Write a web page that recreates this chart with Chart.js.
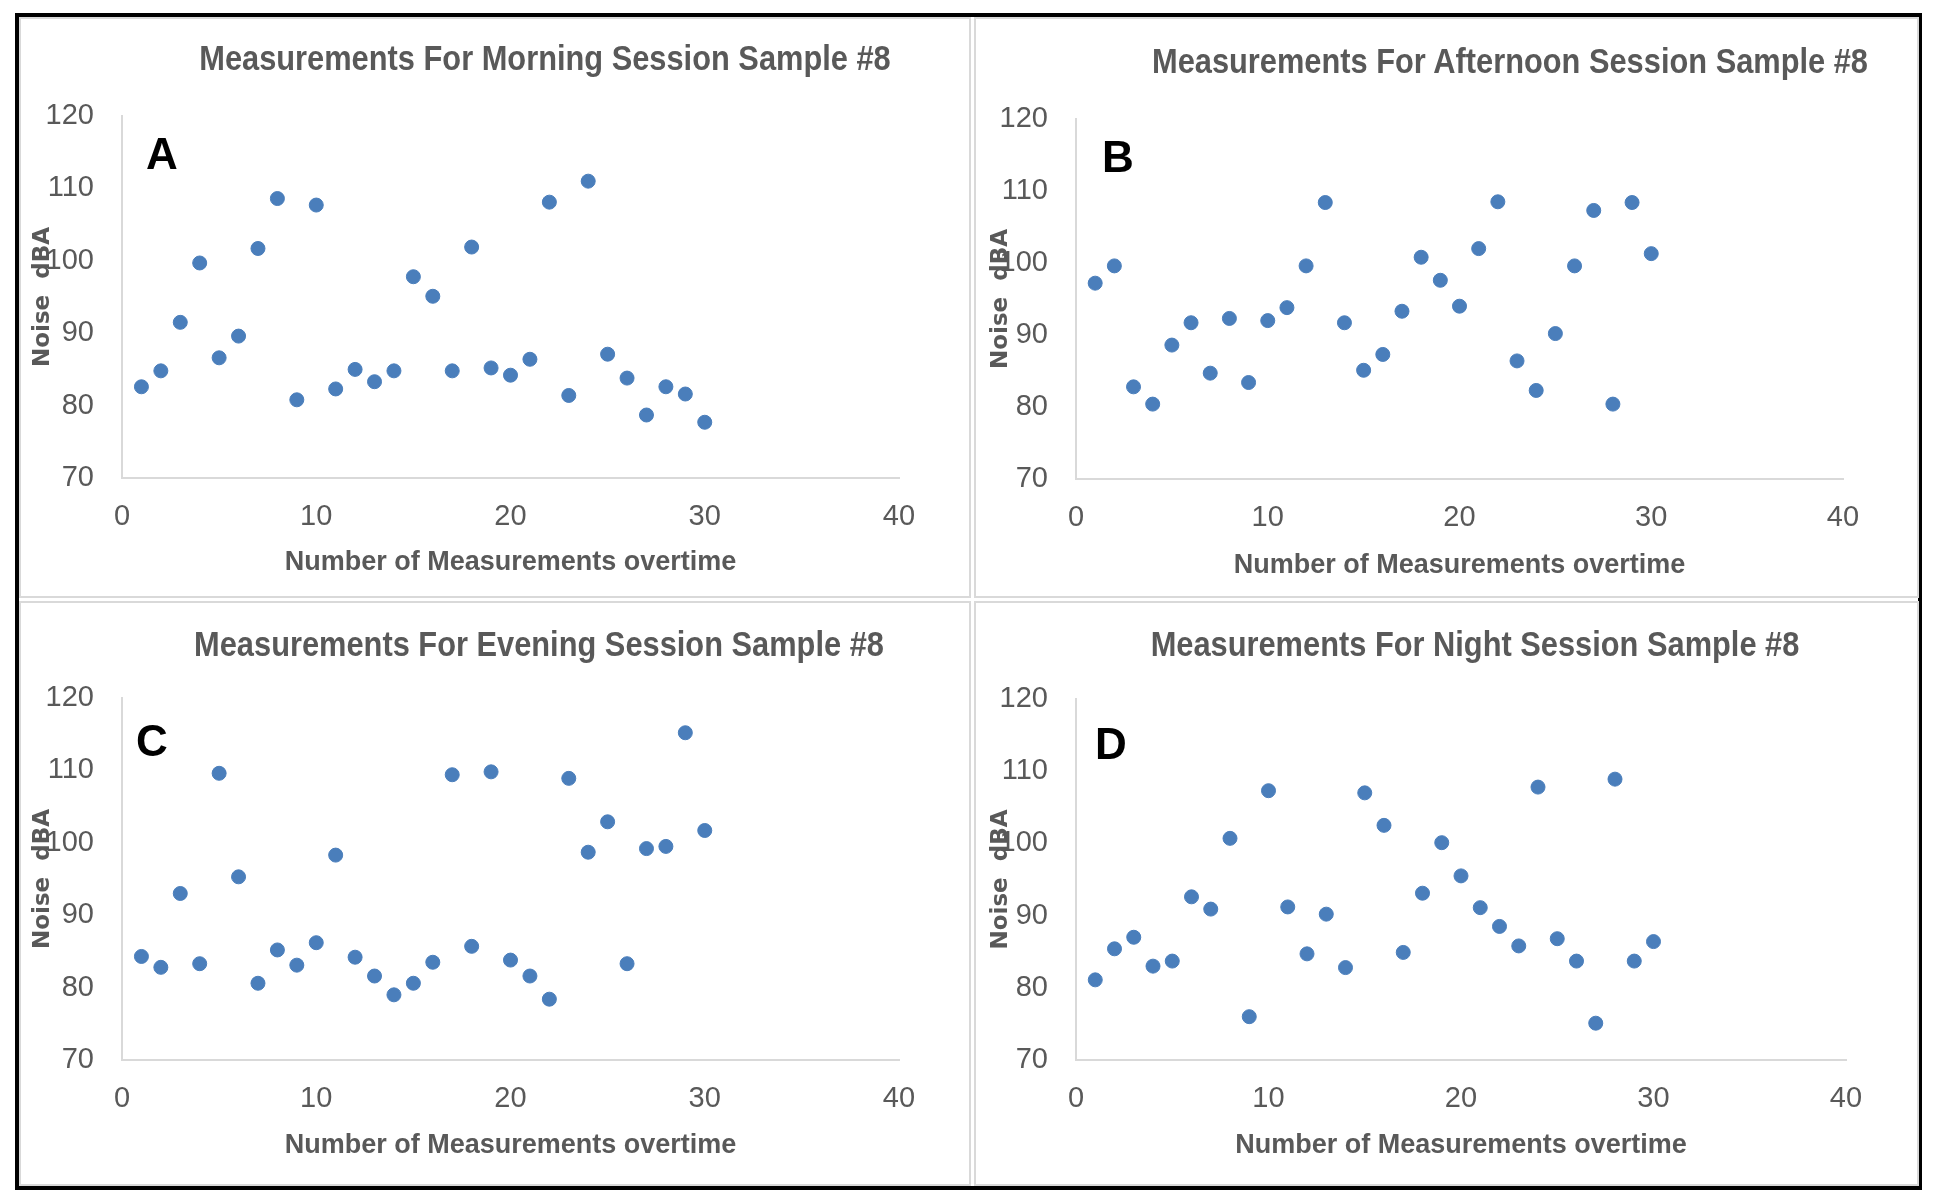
<!DOCTYPE html>
<html>
<head>
<meta charset="utf-8">
<script src="https://cdn.jsdelivr.net/npm/chart.js@4.4.0/dist/chart.umd.min.js"></script>
<style>
  body { margin: 0; background: #fff; width: 1937px; height: 1197px; position: relative; overflow: hidden; }
  #frame { position: absolute; left: 15px; top: 13px; width: 1907px; height: 1177px; border: 4px solid #000; box-sizing: border-box; }
  .panel { position: absolute; border: 2px solid #d9d9d9; box-sizing: border-box; }
  canvas { position: absolute; }
  .title { position: absolute; font: bold 35px "Liberation Sans", sans-serif; color: #595959; white-space: nowrap; transform: translate(-50%, -50%) scaleX(0.88); }
  .tag { position: absolute; font: bold 44px "Liberation Sans", sans-serif; color: #000; transform: translate(-50%, -50%); }
</style>
</head>
<body>
<div id="frame"></div>
<div class="panel" style="left:19px;top:17px;width:952px;height:581px"></div>
<div class="panel" style="left:974px;top:17px;width:945px;height:581px"></div>
<div class="panel" style="left:19px;top:601px;width:952px;height:585px"></div>
<div class="panel" style="left:974px;top:601px;width:945px;height:585px"></div>

<canvas id="chartA" width="951" height="580" style="left:19px;top:17px"></canvas>
<canvas id="chartB" width="944" height="580" style="left:975px;top:17px"></canvas>
<canvas id="chartC" width="951" height="584" style="left:19px;top:602px"></canvas>
<canvas id="chartD" width="944" height="584" style="left:975px;top:602px"></canvas>

<div class="title" style="left:545px;top:58px">Measurements For Morning Session Sample #8</div>
<div class="title" style="left:1510px;top:61px">Measurements For Afternoon Session Sample #8</div>
<div class="title" style="left:539px;top:644px">Measurements For Evening Session Sample #8</div>
<div class="title" style="left:1475px;top:644px">Measurements For Night Session Sample #8</div>

<div class="tag" style="left:162px;top:154px">A</div>
<div class="tag" style="left:1118px;top:157px">B</div>
<div class="tag" style="left:152px;top:741px">C</div>
<div class="tag" style="left:1111px;top:744px">D</div>

<script>
const measurementNo = [1, 2, 3, 4, 5, 6, 7, 8, 9, 10, 11, 12, 13, 14, 15, 16, 17, 18, 19, 20, 21, 22, 23, 24, 25, 26, 27, 28, 29, 30];

const morning = [82.6, 84.8, 91.5, 99.7, 86.6, 89.6, 101.7, 108.6, 80.8, 107.7, 82.3, 85.0, 83.3, 84.8, 97.8, 95.1, 84.8, 101.9, 85.2, 84.2, 86.4, 108.1, 81.4, 111.0, 87.1, 83.8, 78.7, 82.6, 81.6, 77.7];
const afternoon = [97.2, 99.6, 82.8, 80.4, 88.6, 91.7, 84.7, 92.3, 83.4, 92.0, 93.8, 99.6, 108.4, 91.7, 85.1, 87.3, 93.3, 100.8, 97.6, 94.0, 102.0, 108.5, 86.4, 82.3, 90.2, 99.6, 107.3, 80.4, 108.4, 101.3];
const evening = [84.3, 82.8, 93.0, 83.3, 109.6, 95.3, 80.6, 85.2, 83.1, 86.2, 98.3, 84.2, 81.6, 79.0, 80.6, 83.5, 109.4, 85.7, 109.8, 83.8, 81.6, 78.4, 108.9, 98.7, 102.9, 83.3, 99.2, 99.5, 115.2, 101.7];
const night = [81.1, 85.4, 87.0, 83.0, 83.7, 92.6, 90.9, 100.7, 76.0, 107.3, 91.2, 84.7, 90.2, 82.8, 107.0, 102.5, 84.9, 93.1, 100.1, 95.5, 91.1, 88.5, 85.8, 107.8, 86.8, 83.7, 75.1, 108.9, 83.7, 86.4];

const xTicks = [0, 10, 20, 30, 40];
const yTicks = [70, 80, 90, 100, 110, 120];

const grey = '#595959';
const sans = '"Liberation Sans", sans-serif';

function drawPanel(id, values, box) {
    new Chart(document.getElementById(id), {
        type: 'scatter',
        data: {
            datasets: [{
                data: measurementNo.map((n, i) => ({ x: n, y: values[i] })),
                backgroundColor: '#4a7ebb',
                borderColor: '#4a7ebb',
                pointRadius: 7,
                pointHoverRadius: 7
            }]
        },
        options: {
            responsive: false,
            animation: false,
            devicePixelRatio: 1,
            layout: { padding: { left: 0, top: box.top, right: box.right, bottom: 0 } },
            plugins: { legend: { display: false }, tooltip: { enabled: false } },
            scales: {
                x: {
                    type: 'linear',
                    min: xTicks[0],
                    max: xTicks[xTicks.length - 1],
                    afterBuildTicks: s => { s.ticks = xTicks.map(v => ({ value: v })); },
                    ticks: { padding: 22, color: grey, font: { family: sans, size: 29 } },
                    grid: { display: false, drawTicks: false },
                    border: { color: '#d9d9d9', width: 2 },
                    title: {
                        display: true,
                        text: 'Number of Measurements overtime',
                        color: grey,
                        font: { family: sans, size: 27, weight: 'bold' },
                        padding: { top: 0, bottom: box.xTitle }
                    },
                    afterFit: s => { s.height = box.xh; }
                },
                y: {
                    min: yTicks[0],
                    max: yTicks[yTicks.length - 1],
                    afterBuildTicks: s => { s.ticks = yTicks.map(v => ({ value: v })); },
                    ticks: { padding: 28, color: grey, font: { family: sans, size: 29 } },
                    grid: { display: false, drawTicks: false },
                    border: { color: '#d9d9d9', width: 2 },
                    title: {
                        display: true,
                        text: 'Noise  dBA',
                        color: grey,
                        font: { family: 'DejaVu Sans', size: 23, weight: 'bold' },
                        padding: { top: box.yTitle, bottom: 0 }
                    },
                    afterFit: s => { s.width = box.left; }
                }
            }
        }
    });
}

drawPanel('chartA', morning,   { left: 103, top: 99,  right: 71, xh: 119, xTitle: 18, yTitle: 10 });
drawPanel('chartB', afternoon, { left: 101, top: 102, right: 76, xh: 118, xTitle: 15, yTitle: 12 });
drawPanel('chartC', evening,   { left: 103, top: 96,  right: 71, xh: 126, xTitle: 24, yTitle: 10 });
drawPanel('chartD', night,     { left: 101, top: 97,  right: 73, xh: 126, xTitle: 24, yTitle: 12 });
</script>
</body>
</html>
